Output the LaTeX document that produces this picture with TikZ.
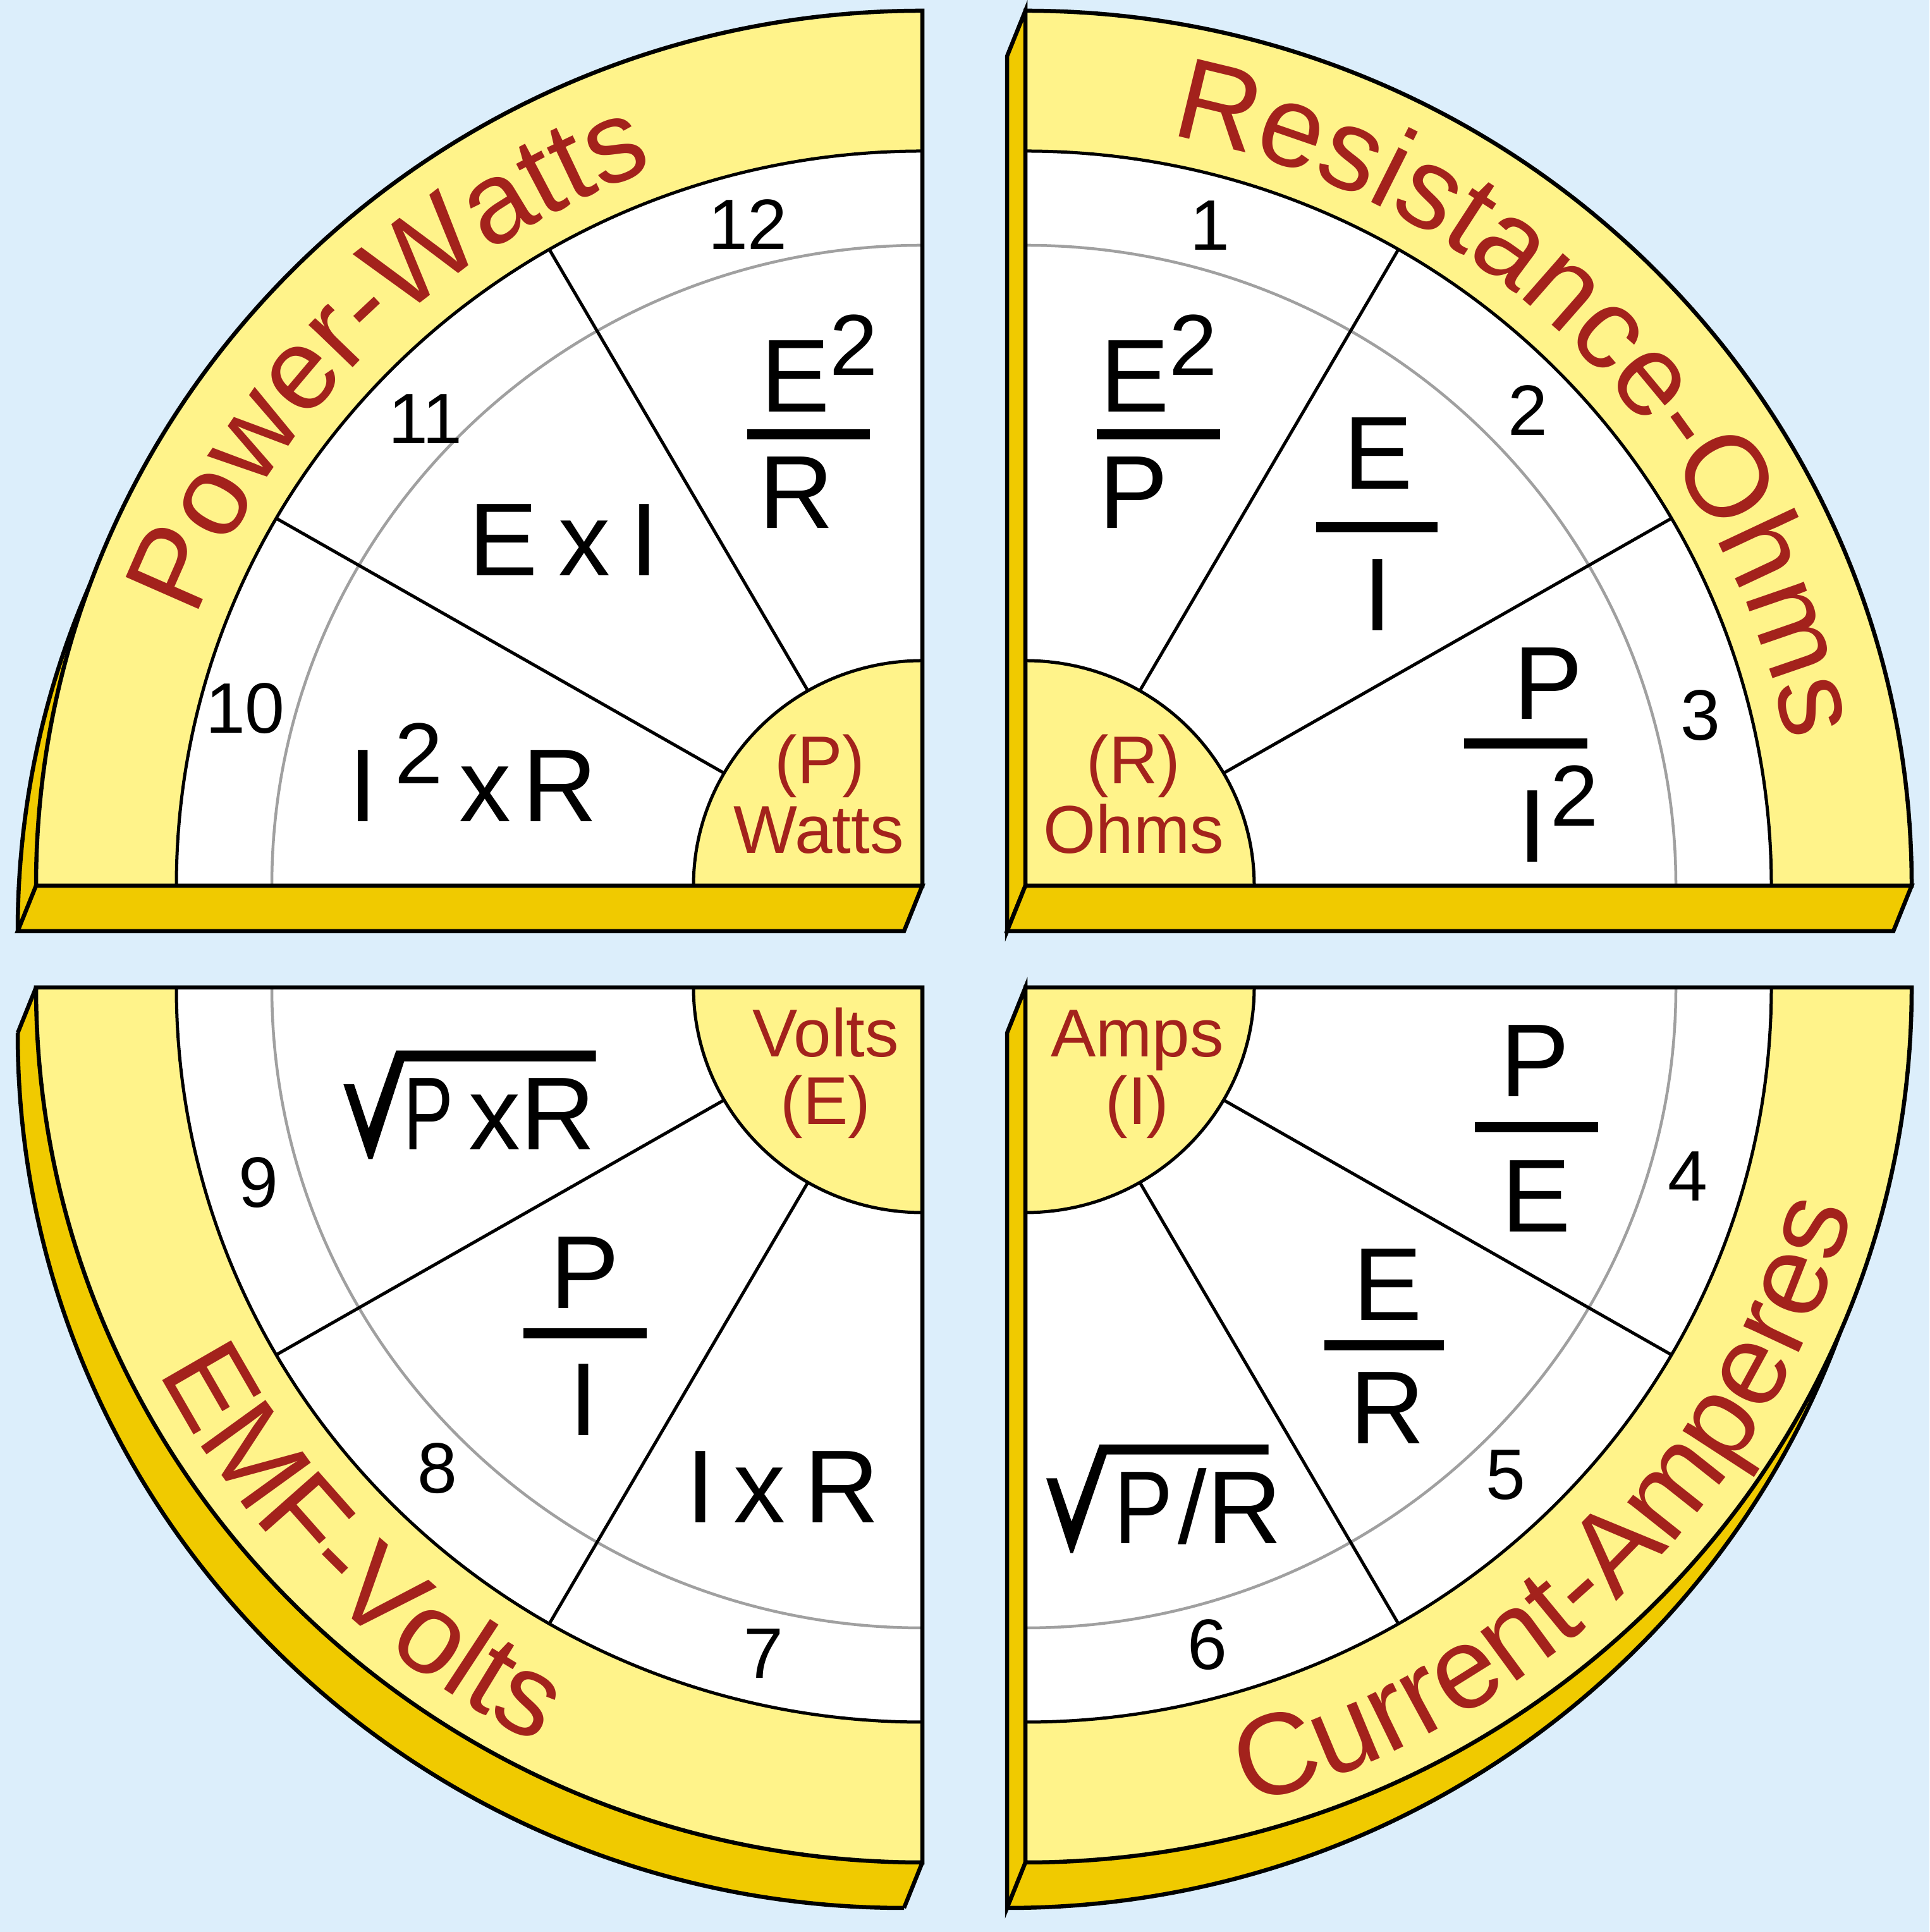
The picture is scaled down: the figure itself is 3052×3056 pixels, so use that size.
\documentclass[tikz,border=0pt]{standalone}
\usepackage{fontspec}
\setmainfont{Liberation Sans}
\usepackage{graphicx}
\usetikzlibrary{decorations.text}
\definecolor{bgc}{RGB}{220,238,251}
\definecolor{lyel}{RGB}{255,243,138}
\definecolor{dyel}{RGB}{240,202,0}
\definecolor{dred}{RGB}{163,34,28}
\definecolor{gln}{RGB}{160,160,160}
\newcommand\fbig{\fontsize{164}{164}\selectfont}
\newcommand\fsup{\fontsize{137}{137}\selectfont}
\newcommand\fnum{\fontsize{113}{113}\selectfont}
\newcommand\flab{\fontsize{107}{107}\selectfont}
\newcommand\farc{\fontsize{183}{183}\selectfont}
\begin{document}
\begin{tikzpicture}[x=1pt,y=1pt,
  ol/.style={draw=black,line width=6.5pt},
  sline/.style={draw=black,line width=5pt},
  gl/.style={draw=gln,line width=4.5pt},
  dk/.style={fill=dyel},
  fm/.style={inner sep=0pt,anchor=base,font=\fbig},
  num/.style={inner sep=0pt,anchor=center,font=\fnum},
  lab/.style={inner sep=0pt,anchor=base,font=\flab,text=dred}]
\useasboundingbox (0,0) rectangle (3052,3056);
\fill[bgc] (0,0) rectangle (3052,3056);

% ---------- extrusions ----------
% top-left
\fill[dk] (1430,1583) -- (28,1583) arc[start angle=180,end angle=90,x radius=1402,y radius=1384] -- cycle;
\draw[ol] (28,1583) arc[start angle=180,end angle=90,x radius=1402,y radius=1384];
\filldraw[dk,ol] (57,1655) -- (1459,1655) -- (1430,1583) -- (28,1583) -- cycle;
% top-right
\filldraw[dk,ol] (1622,3039) -- (1622,1655) -- (1593,1583) -- (1593,2967) -- cycle;
\filldraw[dk,ol] (1622,1655) -- (3024,1655) -- (2995,1583) -- (1593,1583) -- cycle;
% bottom-left
\fill[dk] (1430,1422) -- (28,1422) arc[start angle=180,end angle=270,x radius=1402,y radius=1384] -- cycle;
\fill[dk] (57,1494) -- (1459,1494) -- (1430,1422) -- (28,1422) -- cycle;
\fill[dk] (1459,1494) -- (1459,110) -- (1430,38) -- (1430,1422) -- cycle;
\draw[ol] (28,1422) arc[start angle=180,end angle=270,x radius=1402,y radius=1384];
\draw[ol] (57,1494) -- (28,1422);
\draw[ol] (1459,110) -- (1430,38);
% bottom-right
\fill[dk] (1593,1422) -- (2995,1422) arc[start angle=0,end angle=-90,x radius=1402,y radius=1384] -- cycle;
\draw[ol] (2995,1422) arc[start angle=0,end angle=-90,x radius=1402,y radius=1384];
\filldraw[dk,ol] (1622,1494) -- (1622,110) -- (1593,38) -- (1593,1422) -- cycle;

% ---------- top faces ----------
\foreach \cx/\cy/\a/\b in {1459/1655/90/180,1622/1655/0/90,1459/1494/180/270,1622/1494/270/360}{
 \begin{scope}[shift={(\cx,\cy)}]
  \fill[lyel] (0,0) -- (\a:1402 and 1384) arc[start angle=\a,end angle=\b,x radius=1402,y radius=1384] -- cycle;
  \fill[white] (0,0) -- (\a:1180 and 1162) arc[start angle=\a,end angle=\b,x radius=1180,y radius=1162] -- cycle;
  \draw[sline] (\a:1180 and 1162) arc[start angle=\a,end angle=\b,x radius=1180,y radius=1162];
  \draw[gl] (\a:1029 and 1013) arc[start angle=\a,end angle=\b,x radius=1029,y radius=1013];
  \draw[sline] ({\a+30}:362 and 356) -- ({\a+30}:1180 and 1162);
  \draw[sline] ({\a+60}:362 and 356) -- ({\a+60}:1180 and 1162);
  \fill[lyel] (0,0) -- (\a:362 and 356) arc[start angle=\a,end angle=\b,x radius=362,y radius=356] -- cycle;
  \draw[sline] (\a:362 and 356) arc[start angle=\a,end angle=\b,x radius=362,y radius=356];
  \draw[ol] (0,0) -- (\a:1402 and 1384) arc[start angle=\a,end angle=\b,x radius=1402,y radius=1384] -- cycle;
 \end{scope}
}

% ---------- top-left: Power ----------
\node[fm] (tlE) at (1296,2404) {E\raisebox{58pt}{\fsup 2}};
\fill (1182,2361) rectangle (1376,2377);
\node[fm] (tlR) at (1260,2220) {R};
\node[fm] (tlEI) at (892,2145) {E\kern33pt x\kern31pt I};
\node[fm] (tlIR) at (748,1756) {I\kern28pt\raisebox{60pt}{\fsup 2}\kern25pt x\kern18pt R};
\node[lab] (tlP) at (1297,1816) {(P)};
\node[lab] (tlW) at (1295,1706) {Watts};
\node[num] (n12) at (1183,2701) {12};
\node[num] (n11) at (673,2393) {11};
\node[num] (n10) at (388,1935) {10};

% ---------- top-right: Resistance ----------
\node[fm] (trE) at (1833,2404) {E\raisebox{58pt}{\fsup 2}};
\fill (1735,2361) rectangle (1930,2377);
\node[fm] (trP) at (1793,2220) {P};
\node[fm] (trEb) at (2180,2282) {E};
\fill (2082,2214) rectangle (2274,2230);
\node[fm] (trI) at (2179,2058) {I};
\node[fm] (trPb) at (2449,1918) {P};
\fill (2316,1872) rectangle (2511,1888);
\node[fm] (trIb) at (2465,1692) {I\kern5pt\raisebox{57pt}{\fsup 2}};
\node[lab] (trR) at (1793,1816) {(R)};
\node[lab] (trO) at (1793,1706) {Ohms};
\node[num] (n1) at (1914,2699) {1};
\node[num] (n2) at (2417,2407) {2};
\node[num] (n3) at (2690,1924) {3};

% ---------- bottom-left: EMF ----------
\node[lab] (blV) at (1306,1384) {Volts};
\node[lab] (blE) at (1306,1277) {(E)};
\fill (543.3,1341) -- (560,1341) -- (583.3,1271) -- (626.7,1394.3) -- (942.7,1394.3) -- (942.7,1377) -- (639.3,1377) -- (589.3,1222.7) -- (582.7,1222.7) -- cycle;
\node[fm] (blPR) at (790,1237) {\scalebox{0.72}[1]{P}\kern24pt x\kern0pt R};
\node[fm] (blP) at (925,986) {P};
\fill (828,939) rectangle (1023,955);
\node[fm] (blI) at (923,785) {I};
\node[fm] (blIR) at (1238,647) {I\kern30pt x\kern30pt R};
\node[num] (n9) at (409,1185) {9};
\node[num] (n8) at (692,733) {8};
\node[num] (n7) at (1208,440) {7};

% ---------- bottom-right: Current ----------
\node[lab] (brA) at (1799,1384) {Amps};
\node[lab] (brI) at (1799,1277) {(I)};
\node[fm] (brP) at (2428,1321) {P};
\fill (2333,1265) rectangle (2528,1281);
\node[fm] (brE) at (2430,1107) {E};
\node[fm] (brEb) at (2195,967) {E};
\fill (2095,920) rectangle (2284,936);
\node[fm] (brR) at (2195,772) {R};
\fill (1655,717.7) -- (1671.7,717.7) -- (1695,649.3) -- (1739.3,771) -- (2006.7,771) -- (2006.7,755.3) -- (1750.7,755.3) -- (1697.3,599.3) -- (1693.3,599.3) -- cycle;
\node[fm] (brPR) at (1895,614) {\scalebox{0.85}[1]{P}\kern8pt/R};
\node[num] (n4) at (2670,1195) {4};
\node[num] (n5) at (2382,723) {5};
\node[num] (n6) at (1910,454) {6};

% ---------- curved titles ----------
\path[decorate,decoration={text along path,text={|\farc\color{dred}|Power-Watts},text align=center}]
  (233,1655) arc[start angle=180,end angle=90,x radius=1226,y radius=1208];
\path[decorate,decoration={text along path,text={|\farc\color{dred}|Resistance-Ohms},text align=center}]
  (1622,2863) arc[start angle=90,end angle=0,x radius=1226,y radius=1208];
\path[decorate,decoration={text along path,text={|\farc\color{dred}|EMF-Volts},text align=center}]
  (103,1494) arc[start angle=180,end angle=270,x radius=1356,y radius=1338];
\path[decorate,decoration={text along path,text={|\farc\color{dred}|Current-Amperes},text align=center}]
  (1622,156) arc[start angle=270,end angle=360,x radius=1356,y radius=1338];
\end{tikzpicture}
\end{document}
